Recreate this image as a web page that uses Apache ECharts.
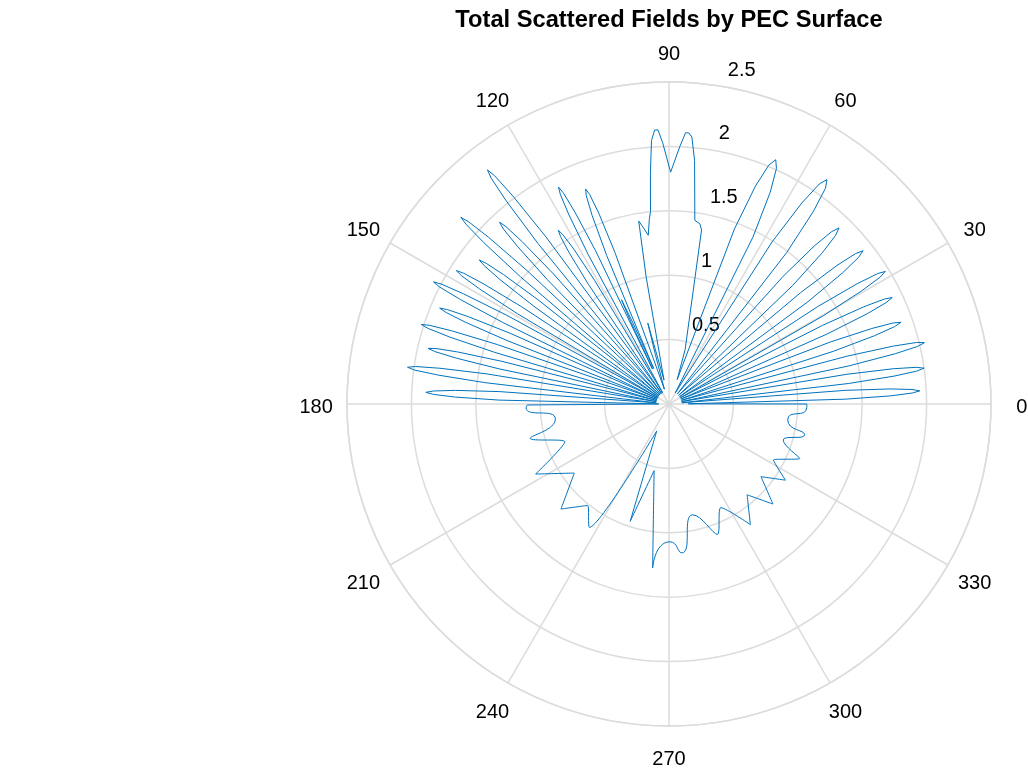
<!DOCTYPE html>
<html><head><meta charset="utf-8">
<script src="https://cdn.jsdelivr.net/npm/echarts@6/dist/echarts.min.js"></script>
<style>html,body{margin:0;padding:0;background:#fff}#c{width:1028px;height:774px}</style>
</head><body><div id="c"></div>
<script>
const titleText = 'Total Scattered Fields by PEC Surface';
const angleTicks = [0, 30, 60, 90, 120, 150, 180, 210, 240, 270, 300, 330];
const radiusTicks = [0.5, 1, 1.5, 2, 2.5];

// [angle (deg), |E|]
const upperRight = [
  [0,1.07],[0.6,0.15],
  [1.57,1.37],[2.10,1.72],[2.58,1.89],[3.0,1.95],[3.42,1.89],[3.90,1.72],[4.43,1.37],[5.5,0.1],
  [6.51,1.40],[7.06,1.76],[7.56,1.94],[8.0,2.0],[8.44,1.94],[8.94,1.76],[9.49,1.40],[10.75,0.1],
  [11.96,1.43],[12.53,1.80],[13.04,1.98],[13.5,2.04],[13.96,1.98],[14.47,1.80],[15.04,1.43],[16.45,0.1],
  [17.78,1.34],[18.38,1.68],[18.92,1.85],[19.4,1.91],[19.88,1.85],[20.42,1.68],[21.02,1.34],[22.45,0.1],
  [23.88,1.34],[24.48,1.69],[25.02,1.86],[25.5,1.92],[25.98,1.86],[26.52,1.69],[27.12,1.34],[28.5,0.1],
  [29.77,1.38],[30.41,1.73],[30.99,1.91],[31.5,1.97],[32.01,1.91],[32.59,1.73],[33.23,1.38],[34.9,0.1],
  [36.36,1.34],[37.08,1.69],[37.72,1.86],[38.3,1.92],[38.88,1.86],[39.52,1.69],[40.24,1.34],[42.1,0.1],
  [43.79,1.33],[44.61,1.67],[45.34,1.84],[46.0,1.90],[46.66,1.84],[47.39,1.67],[48.21,1.33],[50.4,0.1],
  [52.15,1.49],[53.15,1.87],[54.05,2.07],[54.85,2.13],[55.65,2.07],[56.55,1.87],[57.55,1.49],[60.6,0.1],
  [63.3,1.45],[64.44,1.82],[65.48,2.01],[66.4,2.07],[67.32,2.01],[68.36,1.82],[69.5,1.45],[71.5,0.2]
];
const mainBeam = [
  [73.5,0.44],[79.4,1.375],[80.3,1.42],[82.0,1.44],[84.0,1.9],[85.1,2.08],[85.8,2.11],[86.5,2.11],
  [87.6,2.0],[89.6,1.80],[91.4,2.03],[92.3,2.13],[93.0,2.13],[93.8,2.05],[94.6,1.8],[95.5,1.5],
  [96.1,1.44],[97.0,1.32],[98.4,1.39],[99.4,1.44],[100.2,1.0],[101.8,0.19]
];
const leftLobes = [
  [103.9,0.4],[104.7,0.65],[105.4,0.4],[107.3,0.12],
  [109.63,1.25],[110.21,1.58],[110.74,1.74],[111.2,1.79],[111.66,1.74],[112.19,1.58],[112.77,1.25],[113.4,0.3],
  [114.0,0.7],[114.5,0.89],[114.9,0.7],[115.3,0.3],
  [115.6,1.32],[116.12,1.66],[116.58,1.83],[117.0,1.89],[117.42,1.83],[117.88,1.66],[118.4,1.32],[119.8,0.1],
  [121.04,1.12],[121.58,1.41],[122.07,1.55],[122.5,1.60],[122.93,1.55],[123.42,1.41],[123.96,1.12],[125.1,0.1],
  [126.37,1.61],[126.9,2.02],[127.38,2.23],[127.8,2.30],[128.22,2.23],[128.7,2.02],[129.23,1.61],[130.4,0.1],
  [131.62,1.35],[132.13,1.70],[132.59,1.87],[133.0,1.93],[133.41,1.87],[133.87,1.70],[134.38,1.35],[135.5,0.1],
  [136.78,1.52],[137.27,1.91],[137.71,2.10],[138.1,2.17],[138.49,2.10],[138.93,1.91],[139.42,1.52],[140.45,0.1],
  [141.48,1.30],[141.97,1.63],[142.41,1.79],[142.8,1.85],[143.19,1.79],[143.63,1.63],[144.12,1.30],[145.35,0.1],
  [146.58,1.37],[147.07,1.72],[147.51,1.89],[147.9,1.95],[148.29,1.89],[148.73,1.72],[149.22,1.37],[150.25,0.1],
  [151.33,1.44],[151.8,1.81],[152.22,2.0],[152.6,2.06],[152.98,2.0],[153.4,1.81],[153.87,1.44],[154.95,0.1],
  [156.0,1.35],[156.48,1.70],[156.92,1.87],[157.3,1.93],[157.68,1.87],[158.12,1.70],[158.6,1.35],[159.75,0.1],
  [160.9,1.41],[161.38,1.78],[161.82,1.96],[162.2,2.02],[162.58,1.96],[163.02,1.78],[163.5,1.41],[164.6,0.1],
  [165.68,1.34],[166.17,1.69],[166.61,1.86],[167.0,1.92],[167.39,1.86],[167.83,1.69],[168.32,1.34],[169.5,0.1],
  [170.62,1.44],[171.13,1.80],[171.59,1.99],[172.0,2.05],[172.41,1.99],[172.87,1.80],[173.38,1.44],[174.6,0.1],
  [175.82,1.32],[176.35,1.66],[176.83,1.83],[177.25,1.89],[177.67,1.83],[178.15,1.66],[178.68,1.32],[179.6,0.08],
  [180.4,1.1]
];
const lowerWave = [
  [180.4,1.10],[181.5,1.11],[187.5,0.89],[193.9,1.11],[199.9,0.86],[207.7,1.17],
  [216.1,0.91],[224.2,1.17],[231.3,1.01],[237.2,1.14],[245.5,0.23],[251.7,0.96],
  [257.4,0.53],[264.3,1.28],[270.4,1.07],[274.9,1.16],[282.1,0.88],[290.3,1.08],
  [296.6,0.90],[304.0,1.13],[310.7,0.93],[316.1,1.12],[321.7,0.91],[326.8,1.08],
  [331.8,0.92],[337.4,1.10],[342.5,0.93],[347.2,1.08],[352.4,0.93],[358.5,1.07],[360,1.07]
];

const toPolar = arr => arr.map(p => [p[1], p[0]]);
const upperData = toPolar(upperRight.concat(mainBeam, leftLobes));
const lowerData = toPolar(lowerWave);

const FONT = 'Liberation Sans, Arial, Helvetica, sans-serif';
const GRID = '#dcdcdc';
const LABEL_R = 2.74; // radius (data units) at which the angle labels sit
const chart = echarts.init(document.getElementById('c'), null, {renderer: 'canvas'});
chart.setOption({
  animation: false,
  backgroundColor: '#ffffff',
  title: {
    text: titleText, left: 669, top: 8, textAlign: 'center', padding: 0,
    textStyle: {fontFamily: FONT, fontSize: 23.7, fontWeight: 'bold', color: '#000'}
  },
  polar: [
    {center: [669, 404], radius: 322},
    {center: [683, 389], radius: 322}
  ],
  angleAxis: [
    {
      polarIndex: 0, type: 'value', min: 0, max: 360, interval: 30,
      startAngle: 0, clockwise: false,
      axisLine: {show: true, lineStyle: {color: GRID, width: 1.5}},
      axisTick: {show: false},
      splitLine: {show: true, lineStyle: {color: GRID, width: 1.5}},
      axisLabel: {show: false}
    },
    {polarIndex: 1, type: 'value', min: 0, max: 360, startAngle: 82, clockwise: false, show: false}
  ],
  radiusAxis: [
    {
      polarIndex: 0, type: 'value', min: 0, max: 2.5, interval: 0.5,
      axisLine: {show: false}, axisTick: {show: false}, axisLabel: {show: false},
      splitLine: {show: true, lineStyle: {color: GRID, width: 1.5}}
    },
    {
      polarIndex: 1, type: 'value', min: 0, max: 2.5, interval: 0.5,
      axisLine: {show: false}, axisTick: {show: false}, splitLine: {show: false},
      axisLabel: {
        show: true, margin: 0, align: 'left', verticalAlign: 'middle',
        fontSize: 20, fontFamily: FONT, color: '#000',
        formatter: v => { const t = radiusTicks.find(x => Math.abs(x - v) < 1e-6); return t === undefined ? '' : String(t); }
      }
    }
  ],
  series: [
    {type: 'line', coordinateSystem: 'polar', polarIndex: 0, data: upperData, symbol: 'none',
     lineStyle: {color: '#0072BD', width: 1}, clip: false, silent: true},
    {type: 'line', coordinateSystem: 'polar', polarIndex: 0, data: lowerData, symbol: 'none', smooth: 0.8,
     lineStyle: {color: '#0072BD', width: 1}, clip: false, silent: true},
    {type: 'scatter', coordinateSystem: 'polar', polarIndex: 0, silent: true, clip: false,
     data: angleTicks.map(a => [LABEL_R, a]), symbolSize: 1,
     itemStyle: {color: 'rgba(0,0,0,0)', opacity: 1},
     label: {show: true, position: 'inside', offset: [0, 3], formatter: p => String(p.value[1]),
             fontSize: 20, fontFamily: FONT, color: '#000', opacity: 1, textBorderWidth: 0}}
  ]
});
</script></body></html>
